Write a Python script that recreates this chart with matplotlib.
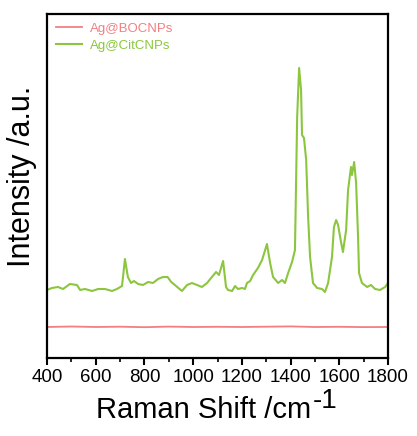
"""
Raman spectra of Ag@BOCNPs and Ag@CitCNPs (SERS comparison).
"""
import numpy as np
import matplotlib.pyplot as plt
from matplotlib.ticker import MultipleLocator

plt.rcParams['font.family'] = ['Liberation Sans', 'DejaVu Sans']

# Ag@CitCNPs spectrum (Raman shift, intensity a.u.)
cit_shift = [400, 420, 445, 466, 494, 523, 536, 556, 585, 610, 638, 667, 687, 708,
             720, 732, 745, 757, 774, 794, 815, 835, 856, 876, 895, 910, 925, 954,
             975, 995, 1016, 1036, 1057, 1077, 1094, 1106, 1123, 1135, 1143, 1160,
             1172, 1184, 1201, 1213, 1221, 1234, 1246, 1266, 1283, 1303, 1316, 1328,
             1349, 1365, 1377, 1390, 1406, 1418, 1427, 1435, 1443, 1447, 1455, 1464,
             1472, 1480, 1492, 1509, 1529, 1541, 1554, 1570, 1578, 1587, 1595, 1607,
             1615, 1628, 1636, 1648, 1652, 1661, 1669, 1677, 1681, 1693, 1714, 1730,
             1747, 1767, 1788, 1800]
cit_int = [68, 70, 71, 69, 74, 73, 68, 69, 67, 69, 69, 67, 69, 72,
           99, 81, 75, 77, 74, 73, 76, 75, 79, 81, 81, 76, 73, 67,
           73, 75, 73, 71, 75, 81, 86, 83, 97, 71, 68, 67,
           72, 69, 70, 69, 75, 77, 83, 90, 98, 114, 95, 81,
           75, 78, 75, 85, 96, 108, 241, 290, 268, 223, 220, 198,
           141, 101, 75, 70, 69, 66, 75, 101, 131, 138, 133, 116,
           106, 128, 168, 191, 183, 196, 175, 121, 85, 75, 71, 73,
           69, 68, 71, 75]

# Ag@BOCNPs spectrum (nearly flat)
boc_shift = [400, 500, 600, 700, 800, 900, 1000, 1100, 1200, 1300, 1400, 1500, 1600, 1700, 1800]
boc_int = [31, 31.5, 31, 31.3, 30.8, 31.4, 31, 31.2, 31, 31.3, 31.6, 31, 31.2, 30.9, 31]

RED = '#f37f82'
GREEN = '#8cc63f'

fig = plt.figure(figsize=(4.17, 4.36), dpi=100)
ax = fig.add_axes([0.1127, 0.1789, 0.8178, 0.789])

ax.plot(boc_shift, boc_int, color=RED, lw=1.3, label='Ag@BOCNPs')
ax.plot(cit_shift, cit_int, color=GREEN, lw=1.5, label='Ag@CitCNPs')

ax.set_xlim(400, 1800)
ax.set_ylim(0, 344)
ax.xaxis.set_major_locator(MultipleLocator(200))
ax.xaxis.set_minor_locator(MultipleLocator(100))
ax.tick_params(axis='x', which='major', direction='out', length=5, width=1.5,
               labelsize=13.5, pad=3)
ax.tick_params(axis='x', which='minor', direction='out', length=3, width=1.2)
ax.set_yticks([])
for sp in ax.spines.values():
    sp.set_linewidth(1.6)

# x label with a full-size, slightly raised "-1"
ax.set_xlabel('Raman Shift /cm', fontsize=21)
ax.xaxis.set_label_coords(0.46, -0.11)
ax.annotate('-1', xy=(1, 0), xycoords=ax.xaxis.label, xytext=(1, 7),
            textcoords='offset points', ha='left', va='bottom', fontsize=20)

ax.set_ylabel('Intensity /a.u.', fontsize=22)
ax.yaxis.set_label_coords(-0.03, 0.528)

ax.legend(loc='upper left', frameon=False, fontsize=9.5, labelcolor='linecolor',
          handlelength=2.0, borderaxespad=0.25, handletextpad=0.6, labelspacing=0.35)

fig.savefig('out.png', dpi=100)
